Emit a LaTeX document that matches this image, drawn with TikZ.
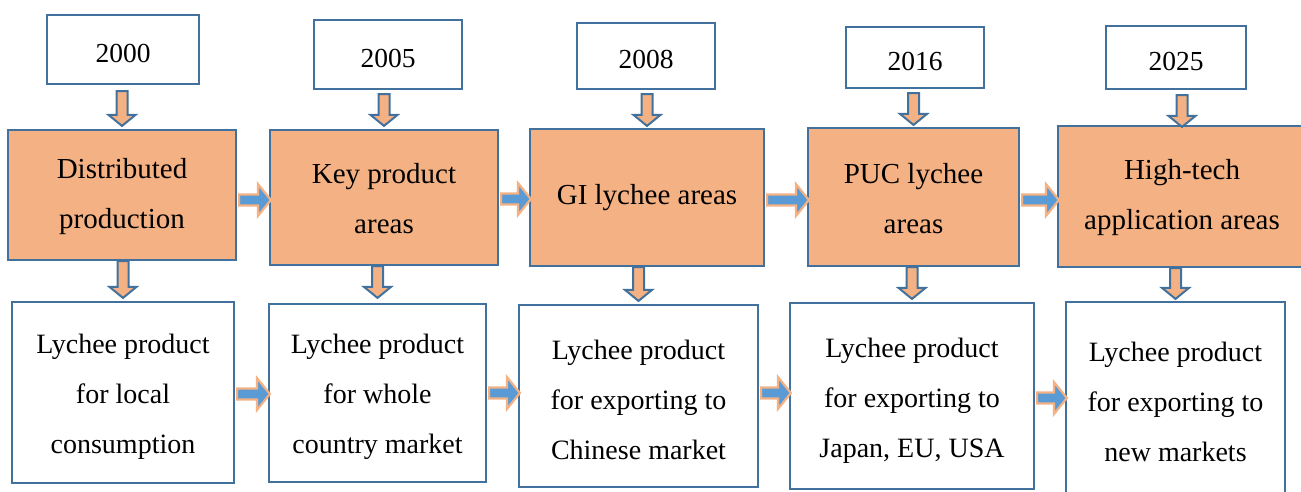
\documentclass[tikz,border=0pt]{standalone}
\usepackage{fontspec}
\setmainfont{Liberation Serif}
\usetikzlibrary{calc}
\definecolor{bordblue}{HTML}{41719C}
\definecolor{orng}{HTML}{F4B183}
\definecolor{arrblue}{HTML}{5B9BD5}
\newcommand\lowstrut{\rule{0pt}{28pt}}
\newcommand\midstrut{\rule{0pt}{23pt}}
\tikzset{
  box/.style={draw=bordblue, line width=2.2pt, inner sep=0pt, align=center},
  yearbox/.style={box, fill=white, font=\fontsize{27.5}{33}\selectfont, text height=25pt, text depth=0pt},
  midbox/.style={box, fill=orng, font=\fontsize{29}{50}\selectfont},
  lowbox/.style={box, fill=white, font=\fontsize{28}{50}\selectfont},
  darr/.style={fill=orng, draw=bordblue, line width=2pt, line join=miter},
  rarr/.style={fill=arrblue, draw=orng, line width=2.2pt, line join=miter}
}
% box from pixel corners
\newcommand\bx[7]{\node[#2, minimum width={#5-#3}, minimum height={#6-#4}] (#1) at ({(#3+#5)/2},{(#4+#6)/2}) {#7};}
% down block arrow: from node #1 to node #2, gap at top #3, gap at tip #4
\newcommand\downarr[4]{\path[darr] let \p1=(#1.south), \p2=(#2.north) in
  (\x2-5.5pt,\y1-#3pt) -- (\x2+5.5pt,\y1-#3pt) -- (\x2+5.5pt,\y2+#4pt+11pt) -- (\x2+13.5pt,\y2+#4pt+11pt)
  -- (\x2,\y2+#4pt) -- (\x2-13.5pt,\y2+#4pt+11pt) -- (\x2-5.5pt,\y2+#4pt+11pt) -- cycle;}
% right block arrow: from node #1 to node #2 at pixel row #3
\newcommand\rightarr[3]{\path[rarr] let \p1=(#1.east), \p2=(#2.west) in
  (\x1+2pt,-#3pt+5.5pt) -- (\x2-11pt,-#3pt+5.5pt) -- (\x2-11pt,-#3pt+16pt) -- (\x2+2pt,-#3pt)
  -- (\x2-11pt,-#3pt-16pt) -- (\x2-11pt,-#3pt-5.5pt) -- (\x1+2pt,-#3pt-5.5pt) -- cycle;}
\begin{document}
\begin{tikzpicture}[x=1pt,y=-1pt]
\useasboundingbox (0,0) rectangle (1301,491);
\clip (0,0) rectangle (1301,491);
% years
\bx{y1}{yearbox}{47}{15}{199}{84}{2000}
\bx{y2}{yearbox}{314}{20}{462}{89}{2005}
\bx{y3}{yearbox}{577}{23}{715}{89}{2008}
\bx{y4}{yearbox}{846}{27}{984}{88}{2016}
\bx{y5}{yearbox}{1106}{26}{1246}{89}{2025}
% middle row
\bx{m1}{midbox}{8}{130}{236}{260}{\midstrut Distributed\\production}
\bx{m2}{midbox}{270}{130}{498}{265}{\midstrut Key product\\areas}
\bx{m3}{midbox}{530}{129}{764}{266}{GI lychee areas}
\bx{m4}{midbox}{808}{128}{1019}{266}{\midstrut PUC lychee\\areas}
\bx{m5}{midbox}{1058}{126}{1306}{267}{\midstrut High-tech\\application areas}
% bottom row
\bx{b1}{lowbox}{12}{302}{234}{483}{\lowstrut Lychee product\\for local\\consumption}
\bx{b2}{lowbox}{269}{304}{486}{482}{\lowstrut Lychee product\\for whole\\country market}
\bx{b3}{lowbox}{519}{305}{758}{487}{\lowstrut Lychee product\\for exporting to\\Chinese market}
\bx{b4}{lowbox}{790}{303}{1034}{489}{\lowstrut Lychee product\\for exporting to\\Japan, EU, USA}
\bx{b5}{lowbox}{1066}{302}{1285}{494}{\lowstrut Lychee product\\for exporting to\\new markets}
% down arrows
\downarr{y1}{m1}{6}{3}
\downarr{y2}{m2}{4}{3}
\downarr{y3}{m3}{4}{2}
\downarr{y4}{m4}{4}{2}
\downarr{y5}{m5}{5}{-2}
\downarr{m1}{b1}{0}{3}
\downarr{m2}{b2}{0}{5}
\downarr{m3}{b3}{0}{3}
\downarr{m4}{b4}{0}{3}
\downarr{m5}{b5}{0}{2}
% right arrows
\rightarr{m1}{m2}{200}
\rightarr{m2}{m3}{199}
\rightarr{m3}{m4}{200}
\rightarr{m4}{m5}{200}
\rightarr{b1}{b2}{394}
\rightarr{b2}{b3}{393}
\rightarr{b3}{b4}{393}
\rightarr{b4}{b5}{398}
\end{tikzpicture}
\end{document}
